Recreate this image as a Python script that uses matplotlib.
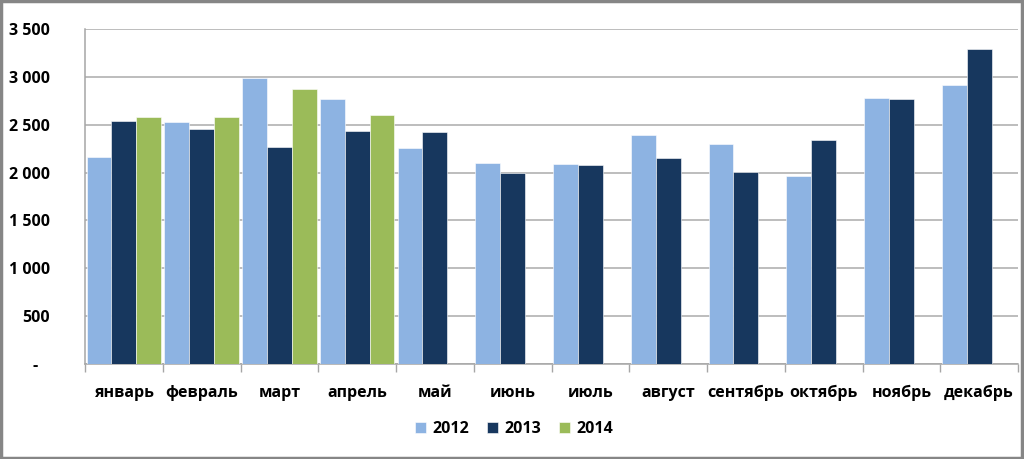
import numpy as np
import matplotlib.pyplot as plt
from matplotlib.patches import Rectangle

months = ['январь', 'февраль', 'март', 'апрель', 'май', 'июнь',
          'июль', 'август', 'сентябрь', 'октябрь', 'ноябрь', 'декабрь']
v2012 = [2162, 2528, 2988, 2769, 2259, 2102, 2092, 2392, 2301, 1966, 2779, 2918]
v2013 = [2539, 2452, 2270, 2437, 2420, 1995, 2075, 2152, 2002, 2340, 2769, 3289]
v2014 = [2581, 2581, 2870, 2598]
years = ['2012', '2013', '2014']
colors = ['#8DB3E2', '#17375E', '#9BBB59']
yticks = [0, 500, 1000, 1500, 2000, 2500, 3000, 3500]

plt.rcParams['font.family'] = ['Open Sans', 'DejaVu Sans']

fig = plt.figure(figsize=(10.24, 4.59), dpi=100)
ax = fig.add_axes([85 / 1024, 1 - 364 / 459, (1018 - 85) / 1024, (364 - 29) / 459])

x = np.arange(len(months))
w = 0.32
series = [v2012, v2013, v2014]
for i, (vals, lab, c) in enumerate(zip(series, years, colors)):
    xs = x[:len(vals)] - 0.48 + w / 2 + i * w
    ax.bar(xs, vals, width=w, color=c, label=lab, edgecolor='white', linewidth=0.4, zorder=3)

ax.set_xlim(-0.5, len(months) - 0.5)
ax.set_ylim(0, 3500)
ax.set_yticks(yticks)
ax.set_yticklabels(['-   '] + ['{:,}'.format(t).replace(',', ' ') for t in yticks[1:]],
                   fontsize=11.5, fontweight='bold')
ax.yaxis.grid(True, color='#ABABAB', linewidth=1.1, zorder=0)
ax.tick_params(axis='y', length=0, pad=25)

ax.set_xticks(x)
ax.set_xticklabels(months, fontsize=11.5, fontweight='bold')
ax.set_xticks(np.arange(-0.5, len(months)), minor=True)
ax.tick_params(axis='x', which='major', length=0, pad=15)
ax.tick_params(axis='x', which='minor', length=6, color='#A6A6A6', width=1)

for s in ['top', 'right']:
    ax.spines[s].set_visible(False)
ax.spines['left'].set_color('#A6A6A6')
ax.spines['bottom'].set_color('#A6A6A6')
ax.spines['left'].set_linewidth(1.1)
ax.spines['bottom'].set_linewidth(1.1)

fig.legend(loc='center', bbox_to_anchor=(514 / 1024, 1 - 429 / 459), ncol=3, frameon=False,
           prop={'size': 11.5, 'weight': 'bold'}, handlelength=0.7, handleheight=0.7,
           handletextpad=0.4, columnspacing=1.1)

fig.patches.append(Rectangle((0.001, 0.002), 0.997, 0.995, transform=fig.transFigure,
                             fill=False, edgecolor='#868686', linewidth=2.5))

fig.savefig('out.png', dpi=100)
